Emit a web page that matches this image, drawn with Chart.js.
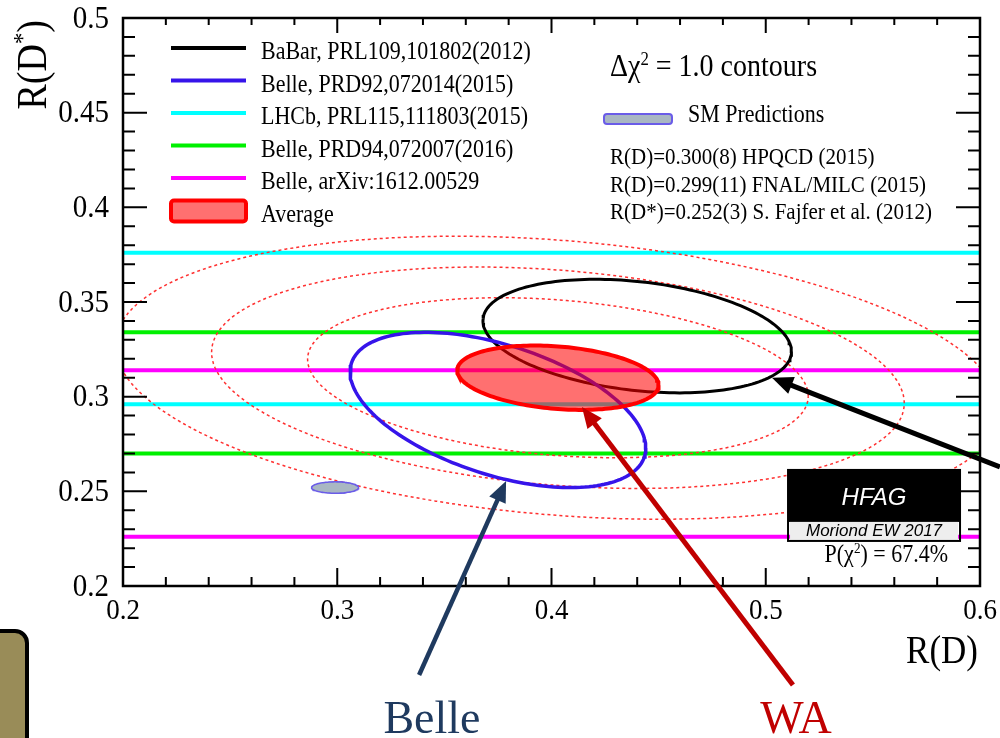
<!DOCTYPE html>
<html>
<head>
<meta charset="utf-8">
<title>R(D) vs R(D*) - HFAG Moriond EW 2017</title>
<script src="https://cdn.jsdelivr.net/npm/chart.js@4.4.1/dist/chart.umd.min.js"></script>
<style>
    html, body { margin: 0; padding: 0; background: #ffffff; }
    #wrap { width: 1000px; height: 738px; position: relative; }
</style>
</head>
<body>
<div id="wrap"><canvas id="rdChart"></canvas></div>
<script>
// 2D measurements of R(D) and R(D*): value, total error, correlation
const contourNames = ['BaBar, PRL109,101802(2012)', 'Belle, PRD92,072014(2015)', 'Average'];
const contourRD = [0.440, 0.375, 0.403];
const contourRDErr = [0.072, 0.069, 0.047];
const contourRDs = [0.332, 0.293, 0.310];
const contourRDsErr = [0.030, 0.041, 0.017];
const contourRho = [-0.27, -0.49, -0.23];

// R(D*)-only measurements, drawn as +-1 sigma lines
const bandNames = ['LHCb, PRL115,111803(2015)', 'Belle, PRD94,072007(2016)', 'Belle, arXiv:1612.00529'];
const bandRDs = [0.336, 0.302, 0.270];
const bandErr = [0.040, 0.032, 0.044];

// SM predictions
const smRD = [0.299, 0.300];
const smRDErr = [0.011, 0.008];
const smRDs = [0.252, 0.252];
const smRDsErr = [0.003, 0.003];

// extra contours of the average (2, 3, 4 sigma in 2D)
const avgChi2Levels = [6.18, 11.83, 19.33];

// axes
const xRange = [0.2, 0.6];
const yRange = [0.2, 0.5];
const xTickLabels = ['0.2', '0.3', '0.4', '0.5', '0.6'];
const yTickLabels = ['0.2', '0.25', '0.3', '0.35', '0.4', '0.45', '0.5'];

const SERIF = '"Liberation Serif", "Times New Roman", serif';
const SANS = '"Liberation Sans", Arial, sans-serif';
const STRETCH = 1.12; // the original text is a bit taller than plain Times

// points on the delta chi2 = k^2 contour of a correlated measurement
function contour(cx, sx, cy, sy, rho, k) {
    const pts = [];
    const n = 180;
    for (let i = 0; i <= n; i++) {
        const t = 2 * Math.PI * i / n;
        pts.push({
            x: cx + k * sx * Math.cos(t),
            y: cy + k * sy * (rho * Math.cos(t) + Math.sqrt(1 - rho * rho) * Math.sin(t))
        });
    }
    return pts;
}

function buildDatasets() {
    const sets = [];

    // SM predictions (top)
    smRD.forEach((v, i) => {
        sets.push({
            label: 'SM ' + i,
            data: contour(v, smRDErr[i], smRDs[i], smRDsErr[i], 0, 1),
            borderColor: '#6a5ce8',
            backgroundColor: '#a9b7c3',
            borderWidth: 1.5,
            fill: 'shape'
        });
    });

    // Average
    sets.push({
        label: contourNames[2],
        data: contour(contourRD[2], contourRDErr[2], contourRDs[2], contourRDsErr[2], contourRho[2], 1),
        borderColor: '#ff0000',
        backgroundColor: 'rgba(255, 0, 0, 0.56)',
        borderWidth: 4,
        fill: 'shape'
    });

    // Belle and BaBar contours
    sets.push({
        label: contourNames[1],
        data: contour(contourRD[1], contourRDErr[1], contourRDs[1], contourRDsErr[1], contourRho[1], 1),
        borderColor: '#3614ea',
        borderWidth: 3.5,
        fill: false
    });
    sets.push({
        label: contourNames[0],
        data: contour(contourRD[0], contourRDErr[0], contourRDs[0], contourRDsErr[0], contourRho[0], 1),
        borderColor: '#000000',
        borderWidth: 3,
        fill: false
    });

    // dashed contours of the average
    avgChi2Levels.forEach(lvl => {
        sets.push({
            label: 'avg ' + lvl,
            data: contour(contourRD[2], contourRDErr[2], contourRDs[2], contourRDsErr[2], contourRho[2], Math.sqrt(lvl)),
            borderColor: '#ff3030',
            borderWidth: 1.5,
            borderDash: [3, 3],
            fill: false
        });
    });

    // horizontal bands
    const bandColors = ['#00ffff', '#00f000', '#ff00ff'];
    bandRDs.forEach((v, i) => {
        [v + bandErr[i], v - bandErr[i]].forEach(y => {
            sets.push({
                label: bandNames[i],
                data: [{ x: xRange[0], y: y }, { x: xRange[1], y: y }],
                borderColor: bandColors[i],
                borderWidth: 4,
                fill: false
            });
        });
    });

    return sets;
}

// annotation arrows and labels, positioned in data coordinates
const arrows = [
    { from: [0.3382, 0.153], to: [0.3788, 0.2555], color: '#1f3a5f', width: 4.5 },
    { from: [0.5127, 0.1477], to: [0.4142, 0.2946], color: '#c00000', width: 5 },
    { from: [0.6093, 0.2629], to: [0.5029, 0.3100], color: '#000000', width: 5 }
];
const arrowLabels = [
    { text: 'Belle', at: [0.3442, 0.1223], color: '#1f3a5f' },
    { text: 'WA', at: [0.5141, 0.1223], color: '#c00000' }
];

function drawArrow(ctx, x1, y1, x2, y2, color, width) {
    const ang = Math.atan2(y2 - y1, x2 - x1);
    const head = 21, half = 9;
    const bx = x2 - head * Math.cos(ang), by = y2 - head * Math.sin(ang);
    ctx.save();
    ctx.strokeStyle = color;
    ctx.fillStyle = color;
    ctx.lineWidth = width;
    ctx.beginPath();
    ctx.moveTo(x1, y1);
    ctx.lineTo(bx + 4 * Math.cos(ang), by + 4 * Math.sin(ang));
    ctx.stroke();
    ctx.beginPath();
    ctx.moveTo(x2, y2);
    ctx.lineTo(bx + half * Math.sin(ang), by - half * Math.cos(ang));
    ctx.lineTo(bx - half * Math.sin(ang), by + half * Math.cos(ang));
    ctx.closePath();
    ctx.fill();
    ctx.restore();
}

// plain text, slightly stretched vertically around its anchor
function tallText(ctx, text, x, y) {
    ctx.save();
    ctx.translate(x, y);
    ctx.scale(1, STRETCH);
    ctx.fillText(text, 0, 0);
    ctx.restore();
}

// text with superscripts: parts = [[text, isSup], ...]
function richText(ctx, parts, x, y, size, family, align) {
    let total = 0;
    const widths = parts.map(p => {
        ctx.font = (p[1] ? size * 0.6 : size) + 'px ' + family;
        const w = ctx.measureText(p[0]).width;
        total += w;
        return w;
    });
    let cx = align === 'right' ? x - total : x;
    ctx.textAlign = 'left';
    parts.forEach((p, i) => {
        ctx.font = (p[1] ? size * 0.6 : size) + 'px ' + family;
        tallText(ctx, p[0], cx, p[1] ? y - size * 0.4 : y);
        cx += widths[i];
    });
}

const framePlugin = {
    id: 'frame',
    afterDatasetsDraw(chart) {
        const ctx = chart.ctx;
        const a = chart.chartArea;
        const xs = chart.scales.x, ys = chart.scales.y;
        ctx.save();

        // frame
        ctx.strokeStyle = '#000';
        ctx.lineWidth = 2.5;
        ctx.strokeRect(a.left, a.top, a.right - a.left, a.bottom - a.top);

        // ticks pointing inwards
        ctx.lineWidth = 2;
        ctx.beginPath();
        for (let i = 1; i < 20; i++) {
            const px = xs.getPixelForValue(xRange[0] + i * 0.02);
            const major = i % 5 === 0;
            ctx.moveTo(px, a.bottom);
            ctx.lineTo(px, a.bottom - (major ? 18 : 9));
            ctx.moveTo(px, a.top);
            ctx.lineTo(px, a.top + (major ? 15 : 7));
        }
        for (let i = 1; i < 30; i++) {
            const py = ys.getPixelForValue(yRange[0] + i * 0.01);
            const major = i % 5 === 0;
            ctx.moveTo(a.left, py);
            ctx.lineTo(a.left + (major ? 24 : 12), py);
            ctx.moveTo(a.right, py);
            ctx.lineTo(a.right - (major ? 24 : 12), py);
        }
        ctx.stroke();

        // tick labels
        ctx.fillStyle = '#000';
        ctx.font = '29px ' + SERIF;
        ctx.textAlign = 'right';
        ctx.textBaseline = 'middle';
        yTickLabels.forEach(t => tallText(ctx, t, a.left - 14, ys.getPixelForValue(parseFloat(t)) + 1));
        ctx.font = '27px ' + SERIF;
        ctx.textAlign = 'center';
        ctx.textBaseline = 'top';
        xTickLabels.forEach(t => tallText(ctx, t, xs.getPixelForValue(parseFloat(t)), a.bottom + 10));

        // axis titles
        ctx.textBaseline = 'alphabetic';
        richText(ctx, [['R(D)', false]], a.right - 2, a.bottom + 77, 35, SERIF, 'right');
        ctx.save();
        ctx.translate(46, a.top + 2);
        ctx.rotate(-Math.PI / 2);
        richText(ctx, [['R(D', false], ['*', true], [')', false]], 0, 0, 38, SERIF, 'right');
        ctx.restore();

        // legend
        const legColors = ['#000000', '#3614ea', '#00ffff', '#00f000', '#ff00ff'];
        const legNames = [contourNames[0], contourNames[1]].concat(bandNames, [contourNames[2]]);
        const lx = 171, lw = 75;
        ctx.font = '22px ' + SERIF;
        ctx.textAlign = 'left';
        legNames.forEach((name, i) => {
            const ly = 48 + i * 32.5;
            if (i < 5) {
                ctx.strokeStyle = legColors[i];
                ctx.lineWidth = 4;
                ctx.beginPath();
                ctx.moveTo(lx, ly);
                ctx.lineTo(lx + lw, ly);
                ctx.stroke();
            } else {
                ctx.fillStyle = 'rgba(255, 0, 0, 0.56)';
                ctx.strokeStyle = '#ff0000';
                ctx.lineWidth = 4;
                ctx.beginPath();
                ctx.roundRect(lx, ly - 10, lw, 21, 3);
                ctx.fill();
                ctx.stroke();
            }
            ctx.fillStyle = '#000';
            tallText(ctx, name, 261, ly + 11);
        });

        // contours note and SM block
        richText(ctx, [['\u0394\u03c7', false], ['2', true], [' = 1.0 contours', false]], 610, 76, 28, SERIF, 'left');
        ctx.fillStyle = '#a9b7c3';
        ctx.strokeStyle = '#6a5ce8';
        ctx.lineWidth = 2;
        ctx.beginPath();
        ctx.roundRect(604, 114, 68, 10, 3);
        ctx.fill();
        ctx.stroke();
        ctx.fillStyle = '#000';
        ctx.font = '22px ' + SERIF;
        tallText(ctx, 'SM Predictions', 688, 122);
        ctx.font = '21px ' + SERIF;
        tallText(ctx, 'R(D)=0.300(8) HPQCD (2015)', 610, 164);
        tallText(ctx, 'R(D)=0.299(11) FNAL/MILC (2015)', 610, 191.5);
        tallText(ctx, 'R(D*)=0.252(3) S. Fajfer et al. (2012)', 610, 219);

        // HFAG logo
        const hx = xs.getPixelForValue(0.5104), hw = 172;
        const hy = ys.getPixelForValue(0.2613);
        ctx.fillStyle = '#000';
        ctx.fillRect(hx, hy, hw, 52);
        ctx.fillStyle = '#eeeeee';
        ctx.fillRect(hx + 2, hy + 52, hw - 4, 18);
        ctx.strokeStyle = '#000';
        ctx.lineWidth = 2;
        ctx.strokeRect(hx, hy, hw, 71);
        ctx.textAlign = 'center';
        ctx.fillStyle = '#fff';
        ctx.font = 'italic 24px ' + SANS;
        ctx.fillText('HFAG', hx + hw / 2, hy + 35);
        ctx.fillStyle = '#000';
        ctx.font = 'italic 17px ' + SANS;
        ctx.fillText('Moriond EW 2017', hx + hw / 2, hy + 66);
        ctx.fillStyle = '#000';
        richText(ctx, [['P(\u03c7', false], ['2', true], [') = 67.4%', false]], hx + hw - 12, hy + 92, 22, SERIF, 'right');

        ctx.restore();
    },
    afterDraw(chart) {
        const ctx = chart.ctx;
        const xs = chart.scales.x, ys = chart.scales.y;
        ctx.save();

        // olive box cut at the left edge
        ctx.fillStyle = '#998c58';
        ctx.strokeStyle = '#000';
        ctx.lineWidth = 4;
        ctx.beginPath();
        ctx.roundRect(-30, 631, 57, 140, 12);
        ctx.fill();
        ctx.stroke();

        arrows.forEach(ar => {
            drawArrow(ctx,
                xs.getPixelForValue(ar.from[0]), ys.getPixelForValue(ar.from[1]),
                xs.getPixelForValue(ar.to[0]), ys.getPixelForValue(ar.to[1]),
                ar.color, ar.width);
        });
        ctx.textAlign = 'center';
        ctx.textBaseline = 'alphabetic';
        ctx.font = '46px ' + SERIF;
        arrowLabels.forEach(l => {
            ctx.fillStyle = l.color;
            ctx.fillText(l.text, xs.getPixelForValue(l.at[0]), ys.getPixelForValue(l.at[1]));
        });
        ctx.restore();
    }
};

document.addEventListener('DOMContentLoaded', function() {
    const ctx = document.getElementById('rdChart').getContext('2d');
    new Chart(ctx, {
        type: 'scatter',
        data: { datasets: buildDatasets() },
        options: {
            responsive: true,
            maintainAspectRatio: false,
            animation: false,
            showLine: true,
            elements: { point: { radius: 0, hoverRadius: 0 }, line: { tension: 0 } },
            layout: { padding: { left: 123, right: 20, top: 18, bottom: 152 } },
            plugins: {
                legend: { display: false },
                tooltip: { enabled: false }
            },
            scales: {
                x: { type: 'linear', min: xRange[0], max: xRange[1], display: false },
                y: { type: 'linear', min: yRange[0], max: yRange[1], display: false }
            }
        },
        plugins: [framePlugin]
    });
});
</script>
</body>
</html>
